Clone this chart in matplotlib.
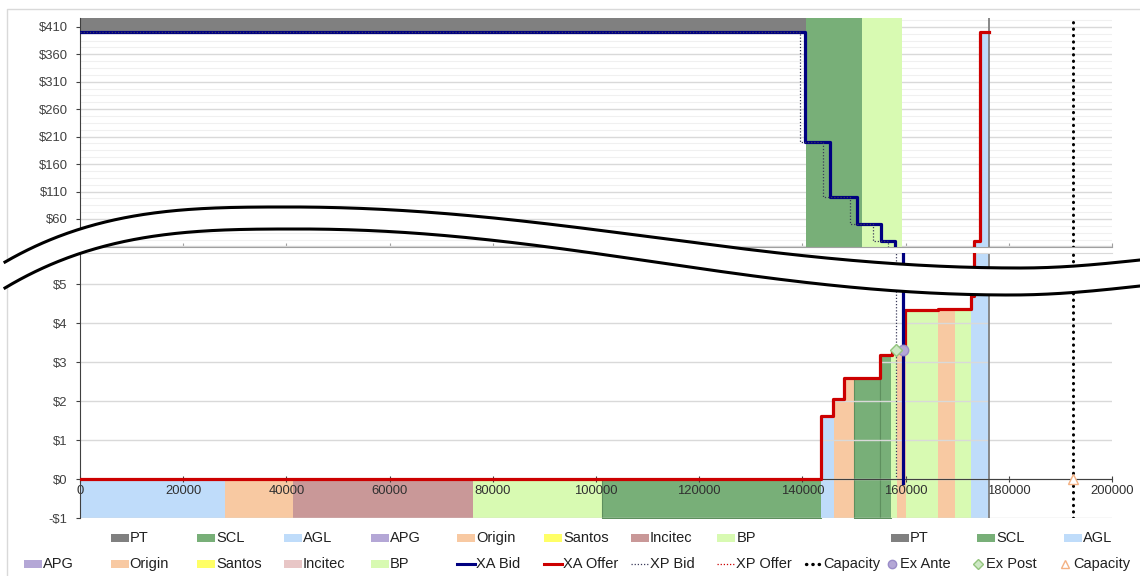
import numpy as np
import matplotlib.pyplot as plt
from matplotlib.patches import Rectangle, Polygon
from matplotlib.lines import Line2D
from matplotlib.ticker import FuncFormatter

plt.rcParams['font.family'] = ['Liberation Sans', 'DejaVu Sans']

W, H = 1140, 576

owner_colors = {'PT': '#808080', 'SCL': '#78AF78', 'AGL': '#BFDCFA', 'APG': '#B4A7D6',
                'Origin': '#F8C9A2', 'Santos': '#FFFF66', 'Incitec': '#C99898', 'BP': '#D8FAB2'}

# offer stack under the XA offer curve (quantity boundaries)
stack_owners = ['AGL', 'Origin', 'Incitec', 'BP', 'SCL', 'AGL', 'Origin', 'SCL', 'SCL',
                'BP', 'Origin', 'BP', 'Origin', 'BP', 'AGL']
stack_edges = [0, 28100, 41200, 76100, 101100, 143600, 146100, 150000, 155000,
               157200, 158300, 160100, 166300, 169600, 172700, 176200]

# bid-side blocks in the upper panel
bid_owners = ['PT', 'SCL', 'BP']
bid_edges = [0, 140700, 151500, 159300]
bid_floor = [400, 0, 0]

# XA offer (step, price holds until next quantity)
offer_q = [0, 143600, 145900, 148100, 155000, 157300, 159800, 166300, 172600, 173200, 174500, 176200]
offer_p = [0, 1.62, 2.05, 2.6, 3.18, 3.28, 4.33, 4.36, 4.7, 20, 400, 400]

# XA bid
bid_q = [0, 140500, 145300, 150600, 155200, 157900, 159500]
bid_p = [400, 200, 100, 50, 20, 6, -0.1]

# XP bid
xp_q = [0, 139500, 144000, 149200, 153700, 156600, 158200]
xp_p = [400, 200, 100, 50, 20, 6, 0]

ex_ante = (159500, 3.3)
ex_post = (158200, 3.3)
capacity_q = 192400

x_ticks = np.arange(0, 200001, 20000)
top_yticks = np.arange(10, 411, 50)
bot_yticks = np.arange(-1, 6, 1)


def price_at(q_list, p_list, q):
    i = np.searchsorted(q_list, q, side='right') - 1
    return p_list[i]


def fx(px):
    return px / W


def fy(py):
    return 1 - py / H


def money(v, _):
    return f'-${-v:g}' if v < 0 else f'${v:g}'


fig = plt.figure(figsize=(W / 100, H / 100), dpi=100)
ax_top = fig.add_axes([fx(80), fy(247), fx(1112) - fx(80), fy(18) - fy(247)])
ax_bot = fig.add_axes([fx(80), fy(518), fx(1112) - fx(80), fy(253) - fy(518)])

for ax in (ax_top, ax_bot):
    # offer stack
    for name, lo, hi in zip(stack_owners, stack_edges[:-1], stack_edges[1:]):
        xs = [lo] + [q for q in offer_q if lo < q < hi] + [hi]
        ys = [price_at(offer_q, offer_p, q) for q in xs]
        edge = '#5E8F5E' if name == 'SCL' else 'none'
        ax.fill_between(xs, -1, ys, step='post', facecolor=owner_colors[name],
                        edgecolor=edge, lw=0.8, zorder=1)
    ax.axvline(176200, color='#7F7F7F', lw=1.3, zorder=2.2)
    ax.axvline(capacity_q, color='black', lw=2.2, linestyle=(0, (0.1, 2.0)),
               dash_capstyle='round', zorder=5)
    ax.plot(offer_q, offer_p, drawstyle='steps-post', color='#CC0000', lw=2.3, zorder=3)
    ax.plot(bid_q, bid_p, drawstyle='steps-post', color='#000080', lw=2.3, zorder=4)
    ax.plot(xp_q, xp_p, drawstyle='steps-post', color='#3A3A5A', lw=0.9,
            linestyle=(0, (1, 1.5)), zorder=4.5)
    ax.set_xlim(0, 200000)
    ax.set_xticks(x_ticks)
    ax.yaxis.set_major_formatter(FuncFormatter(money))
    ax.tick_params(axis='y', colors='#404040', labelsize=9.4, length=3, pad=6)
    ax.spines['right'].set_visible(False)
    ax.spines['left'].set_color('#404040')

# upper panel
for name, lo, hi, floor in zip(bid_owners, bid_edges[:-1], bid_edges[1:], bid_floor):
    ax_top.fill_between([lo, hi], floor, 1000, facecolor=owner_colors[name], lw=0, zorder=1)
ax_top.set_axisbelow(True)
ax_top.set_ylim(9, 426)
ax_top.set_yticks(top_yticks)
ax_top.set_yticks(np.arange(10, 426, 12.5), minor=True)
ax_top.grid(axis='y', which='major', color='#D9D9D9', lw=1)
ax_top.grid(axis='y', which='minor', color='#F0F0F0', lw=0.8)
ax_top.tick_params(axis='y', which='minor', length=0)
ax_top.tick_params(axis='x', direction='in', length=3, color='#A0A0A0', labelbottom=False)
ax_top.spines['top'].set_visible(False)
ax_top.spines['bottom'].set_color('#A0A0A0')

# lower panel
ax_bot.set_axisbelow('line')
ax_bot.plot(*ex_ante, 'o', ms=7.5, mfc='#B4A7D6', mec='#9A8CC8', mew=1, zorder=6)
ax_bot.plot(*ex_post, 'D', ms=6, mfc='#CDE8C4', mec='#93C47D', mew=1, zorder=6)
ax_bot.plot(capacity_q, 0, '^', ms=7, mfc='white', mec='#F4B183', mew=1, zorder=6)
ax_bot.set_ylim(-1, 5.8)
ax_bot.set_yticks(bot_yticks)
ax_bot.grid(axis='y', color='#D9D9D9', lw=1)
ax_bot.spines['bottom'].set_position(('data', 0))
ax_bot.spines['bottom'].set_color('#404040')
ax_bot.spines['top'].set_color('#D9D9D9')
ax_bot.tick_params(axis='x', direction='inout', length=4, color='#404040',
                   labelsize=9.4, labelcolor='#303030', pad=2)
ax_bot.xaxis.set_major_formatter(FuncFormatter(lambda v, _: f'{v:.0f}'))

# chart area border
fig.add_artist(Line2D([fx(7), fx(7), 1], [0, fy(9), fy(9)], transform=fig.transFigure,
                      color='#D9D9D9', lw=1, zorder=0))


# wavy axis break
def wave_y(x, y_start, x_pk, y_pk, x_tr, y_tr, y_end):
    y = np.empty_like(x)
    a = x <= x_pk
    y[a] = y_pk + (y_start - y_pk) * (1 - x[a] / x_pk) ** 3
    b = (x > x_pk) & (x <= x_tr)
    y[b] = y_pk + (y_tr - y_pk) * (1 - np.cos(np.pi * (x[b] - x_pk) / (x_tr - x_pk))) / 2
    c = x > x_tr
    y[c] = y_tr - (y_tr - y_end) * (1 - np.cos(np.pi / 2 * (x[c] - x_tr) / (W - x_tr)))
    return y


wx = np.linspace(5, W, 600)
up = wave_y(wx, 265, 290, 207, 1020, 268, 260)
lo = wave_y(wx, 291, 300, 229, 1010, 295, 286)
band = np.column_stack([np.r_[wx, wx[::-1]], np.r_[up, lo[::-1]]])
fig.add_artist(Polygon(np.column_stack([fx(band[:, 0]), fy(band[:, 1])]),
                       transform=fig.transFigure, facecolor='white', edgecolor='none', zorder=5))
for yy in (up, lo):
    fig.add_artist(Line2D(fx(wx), fy(yy), transform=fig.transFigure, color='black',
                          lw=2.2, zorder=6))

# legend (Excel style grid)
col_x = [24 + 86.67 * k for k in range(13)]
row_y = [538, 564]
legend_items = [
    (0, 1, 'PT', 'patch', owner_colors['PT']), (0, 2, 'SCL', 'patch', owner_colors['SCL']),
    (0, 3, 'AGL', 'patch', owner_colors['AGL']), (0, 4, 'APG', 'patch', owner_colors['APG']),
    (0, 5, 'Origin', 'patch', owner_colors['Origin']), (0, 6, 'Santos', 'patch', owner_colors['Santos']),
    (0, 7, 'Incitec', 'patch', owner_colors['Incitec']), (0, 8, 'BP', 'patch', owner_colors['BP']),
    (0, 10, 'PT', 'patch', owner_colors['PT']), (0, 11, 'SCL', 'patch', owner_colors['SCL']),
    (0, 12, 'AGL', 'patch', owner_colors['AGL']),
    (1, 0, 'APG', 'patch', owner_colors['APG']), (1, 1, 'Origin', 'patch', owner_colors['Origin']),
    (1, 2, 'Santos', 'patch', owner_colors['Santos']), (1, 3, 'Incitec', 'patch', '#E8C6C6'),
    (1, 4, 'BP', 'patch', owner_colors['BP']),
    (1, 5, 'XA Bid', 'line', '#000080'), (1, 6, 'XA Offer', 'line', '#CC0000'),
    (1, 7, 'XP Bid', 'dotted', '#3A3A5A'), (1, 8, 'XP Offer', 'dotted', '#CC0000'),
    (1, 9, 'Capacity', 'dots', 'black'), (1, 10, 'Ex Ante', 'o', '#B4A7D6'),
    (1, 11, 'Ex Post', 'D', '#CDE8C4'), (1, 12, 'Capacity', '^', 'white'),
]
marker_edges = {'o': '#9A8CC8', 'D': '#93C47D', '^': '#F4B183'}
for row, col, label, kind, color in legend_items:
    x0, y0 = col_x[col], row_y[row]
    tx = x0 + 19
    if kind == 'patch':
        fig.add_artist(Rectangle((fx(x0), fy(y0 + 4)), fx(18), 8 / H, transform=fig.transFigure,
                                 facecolor=color, edgecolor='none', zorder=7))
    elif kind == 'line':
        fig.add_artist(Line2D([fx(x0), fx(x0 + 18)], [fy(y0), fy(y0)], transform=fig.transFigure,
                              color=color, lw=2.2, zorder=7))
    elif kind == 'dotted':
        fig.add_artist(Line2D([fx(x0), fx(x0 + 18)], [fy(y0), fy(y0)], transform=fig.transFigure,
                              color=color, lw=0.9, linestyle=(0, (1, 1.5)), zorder=7))
    elif kind == 'dots':
        fig.add_artist(Line2D([fx(x0 + 2), fx(x0 + 17)], [fy(y0), fy(y0)], transform=fig.transFigure,
                              color=color, lw=2.4, linestyle=(0, (0.1, 1.8)),
                              dash_capstyle='round', zorder=7))
    else:
        fig.add_artist(Line2D([fx(x0 + 1)], [fy(y0)], transform=fig.transFigure, marker=kind,
                              ms=6 if kind != 'D' else 5, mfc=color, mec=marker_edges[kind],
                              mew=1, lw=0, zorder=7))
        tx = x0 + 9
    fig.text(fx(tx), fy(y0), label, fontsize=10.5, color='#202020', va='center', ha='left', zorder=7)

fig.savefig('out.png', dpi=100)
